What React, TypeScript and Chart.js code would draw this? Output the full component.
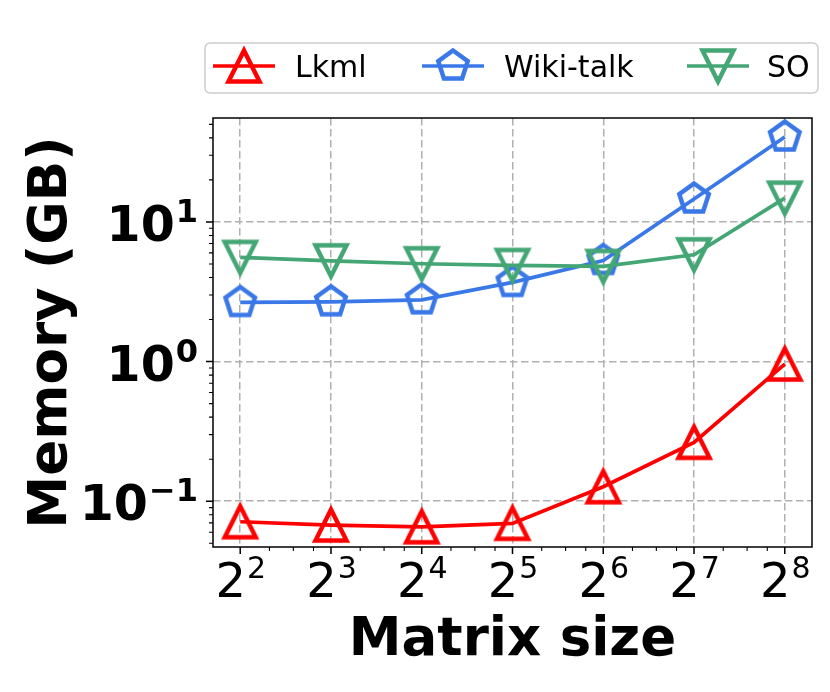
import React, { useEffect, useRef } from 'react';
import { Chart, registerables } from 'chart.js';

Chart.register(...registerables);

// ---- data ----
const matrixSizes = [4, 8, 16, 32, 64, 128, 256];
const xTickExponents = ['2', '3', '4', '5', '6', '7', '8'];
const lkml = [0.0713, 0.0675, 0.0656, 0.0694, 0.127, 0.264, 0.96];
const wikiTalk = [2.65, 2.68, 2.77, 3.69, 5.3, 14.6, 40.6];
const so = [5.57, 5.27, 5.02, 4.88, 4.8, 5.82, 14.8];
const seriesNames = ['Lkml', 'Wiki-talk', 'SO'];
const seriesColors = ['#ff0000', '#3a78e8', '#43a674'];
const seriesMarkers = ['up', 'pentagon', 'down'];
const yMajorTicks = [0.1, 1, 10];
const yTickExponents = ['\u22121', '0', '1'];
const yMinorTicks = [0.05, 0.06, 0.07, 0.08, 0.09, 0.2, 0.3, 0.4, 0.5, 0.6, 0.7, 0.8, 0.9, 2, 3, 4, 5, 6, 7, 8, 9, 20, 30, 40, 50];
const xMinorTicks = [5, 6, 7, 10, 12, 14, 20, 24, 28, 40, 48, 56, 80, 96, 112, 160, 192, 224];
const xMin = 3.249;
const xMax = 315.2;
const yMin = 0.047;
const yMax = 55.5;

const FONT = '"DejaVu Sans"';
const MS = 15.5; // marker half size
const MLW = 4.5; // marker edge width

function drawMarker(ctx: CanvasRenderingContext2D, kind: string, cx: number, cy: number, s: number, color: string, lw: number) {
  ctx.save();
  ctx.beginPath();
  if (kind === 'up') {
    ctx.moveTo(cx, cy - s);
    ctx.lineTo(cx - s, cy + s);
    ctx.lineTo(cx + s, cy + s);
    ctx.closePath();
  } else if (kind === 'down') {
    ctx.moveTo(cx, cy + s);
    ctx.lineTo(cx - s, cy - s);
    ctx.lineTo(cx + s, cy - s);
    ctx.closePath();
  } else {
    for (let k = 0; k < 5; k++) {
      const t = (k * 2 * Math.PI) / 5;
      const x = cx + s * Math.sin(t);
      const y = cy - s * Math.cos(t);
      if (k === 0) ctx.moveTo(x, y);
      else ctx.lineTo(x, y);
    }
    ctx.closePath();
  }
  ctx.lineJoin = 'miter';
  ctx.miterLimit = 10;
  ctx.lineWidth = lw;
  ctx.strokeStyle = color;
  ctx.stroke();
  ctx.restore();
}

function makeMarkerCanvas(kind: string, color: string) {
  const c = document.createElement('canvas');
  c.width = 64;
  c.height = 64;
  const cx = c.getContext('2d') as CanvasRenderingContext2D;
  drawMarker(cx, kind, 32, 32, MS, color, MLW);
  return c;
}

const decorPlugin = {
  id: 'decor',
  afterDraw(chart: any) {
    const ctx: CanvasRenderingContext2D = chart.ctx;
    const { left, right, top, bottom } = chart.chartArea;
    const xs = chart.scales.x;
    const ys = chart.scales.y;
    ctx.save();
    // spines
    ctx.strokeStyle = '#000';
    ctx.lineWidth = 1.5;
    ctx.strokeRect(left, top, right - left, bottom - top);

    // y ticks
    ctx.beginPath();
    ctx.lineWidth = 1.5;
    yMajorTicks.forEach((v) => {
      const y = ys.getPixelForValue(v);
      ctx.moveTo(left, y);
      ctx.lineTo(left - 7, y);
    });
    ctx.stroke();
    ctx.beginPath();
    ctx.lineWidth = 1.1;
    yMinorTicks.forEach((v) => {
      const y = ys.getPixelForValue(v);
      ctx.moveTo(left, y);
      ctx.lineTo(left - 4, y);
    });
    ctx.stroke();
    // x ticks
    ctx.beginPath();
    ctx.lineWidth = 1.5;
    matrixSizes.forEach((v) => {
      const x = xs.getPixelForValue(v);
      ctx.moveTo(x, bottom);
      ctx.lineTo(x, bottom + 7);
    });
    ctx.stroke();
    ctx.beginPath();
    ctx.lineWidth = 1.1;
    xMinorTicks.forEach((v) => {
      const x = xs.getPixelForValue(v);
      ctx.moveTo(x, bottom);
      ctx.lineTo(x, bottom + 4);
    });
    ctx.stroke();

    ctx.fillStyle = '#000';
    ctx.textBaseline = 'alphabetic';
    // y tick labels
    const yMainFont = `bold 49px ${FONT}`;
    const yExpFont = `bold 32px ${FONT}`;
    yMajorTicks.forEach((v, i) => {
      const y = ys.getPixelForValue(v);
      ctx.textAlign = 'right';
      ctx.font = yExpFont;
      const ew = ctx.measureText(yTickExponents[i]).width;
      ctx.fillText(yTickExponents[i], 198, y);
      ctx.font = yMainFont;
      ctx.fillText('10', 198 - ew - 1, y + 19);
    });
    // x tick labels
    const xMainFont = `48px ${FONT}`;
    const xExpFont = `30px ${FONT}`;
    matrixSizes.forEach((v, i) => {
      const x = xs.getPixelForValue(v);
      ctx.textAlign = 'left';
      ctx.font = xMainFont;
      const mw = ctx.measureText('2').width;
      ctx.font = xExpFont;
      const ew = ctx.measureText(xTickExponents[i]).width;
      const start = x - (mw + ew) / 2;
      ctx.font = xMainFont;
      ctx.fillText('2', start, bottom + 50);
      ctx.font = xExpFont;
      ctx.fillText(xTickExponents[i], start + mw + 1, bottom + 31);
    });

    // axis titles
    ctx.font = `bold 53px ${FONT}`;
    ctx.textAlign = 'center';
    ctx.fillText('Matrix size', (left + right) / 2, 655);
    ctx.save();
    ctx.translate(66, (top + bottom) / 2);
    ctx.rotate(-Math.PI / 2);
    ctx.fillText('Memory (GB)', 0, 0);
    ctx.restore();

    // legend
    ctx.beginPath();
    ctx.roundRect(205, 43, 613, 50, 5);
    ctx.fillStyle = 'rgba(255,255,255,0.8)';
    ctx.fill();
    ctx.strokeStyle = '#cccccc';
    ctx.lineWidth = 1.5;
    ctx.stroke();
    const handleX = [213, 422, 687];
    const textX = [295, 504, 767];
    const ly = 66;
    seriesNames.forEach((name, i) => {
      ctx.beginPath();
      ctx.strokeStyle = seriesColors[i];
      ctx.lineWidth = 3.5;
      ctx.moveTo(handleX[i], ly);
      ctx.lineTo(handleX[i] + 62, ly);
      ctx.stroke();
      drawMarker(ctx, seriesMarkers[i], handleX[i] + 31, ly, MS, seriesColors[i], MLW);
      ctx.fillStyle = '#000';
      ctx.font = `30px ${FONT}`;
      ctx.textAlign = 'left';
      ctx.fillText(name, textX[i], 77);
    });
    ctx.restore();
  },
};

export default function App() {
  const canvasRef = useRef<HTMLCanvasElement | null>(null);

  useEffect(() => {
    document.body.style.margin = '0';
    const canvas = canvasRef.current;
    if (!canvas) return;
    const seriesValues = [lkml, wikiTalk, so];
    const datasets = seriesValues.map((vals, i) => ({
      label: seriesNames[i],
      data: vals.map((v, j) => ({ x: matrixSizes[j], y: v })),
      borderColor: seriesColors[i],
      backgroundColor: seriesColors[i],
      borderWidth: 3.7,
      pointStyle: makeMarkerCanvas(seriesMarkers[i], seriesColors[i]) as any,
      pointRadius: 16,
      tension: 0,
      fill: false,
      clip: false as any,
      order: 2 - i,
    }));
    const chart = new Chart(canvas, {
      type: 'line',
      data: { datasets },
      options: {
        responsive: false,
        animation: false,
        layout: { padding: { left: 213, top: 118, right: 18, bottom: 145 }, autoPadding: false },
        plugins: { legend: { display: false }, tooltip: { enabled: false }, title: { display: false } },
        scales: {
          x: {
            type: 'logarithmic',
            min: xMin,
            max: xMax,
            afterBuildTicks: (scale: any) => {
              scale.ticks = matrixSizes.map((v) => ({ value: v }));
            },
            afterFit: (scale: any) => {
              scale.height = 0;
            },
            ticks: { display: false },
            grid: { color: '#b0b0b0', lineWidth: 1.5, drawTicks: false },
            border: { display: false, dash: [7.5, 3.5] },
          },
          y: {
            type: 'logarithmic',
            min: yMin,
            max: yMax,
            afterBuildTicks: (scale: any) => {
              scale.ticks = yMajorTicks.map((v) => ({ value: v }));
            },
            afterFit: (scale: any) => {
              scale.width = 0;
            },
            ticks: { display: false },
            grid: { color: '#b0b0b0', lineWidth: 1.5, drawTicks: false },
            border: { display: false, dash: [7.5, 3.5] },
          },
        },
      },
      plugins: [decorPlugin],
    });
    return () => chart.destroy();
  }, []);

  return (
    <div style={{ width: 830, height: 692 }}>
      <canvas ref={canvasRef} width={830} height={692} style={{ display: 'block' }} />
    </div>
  );
}
